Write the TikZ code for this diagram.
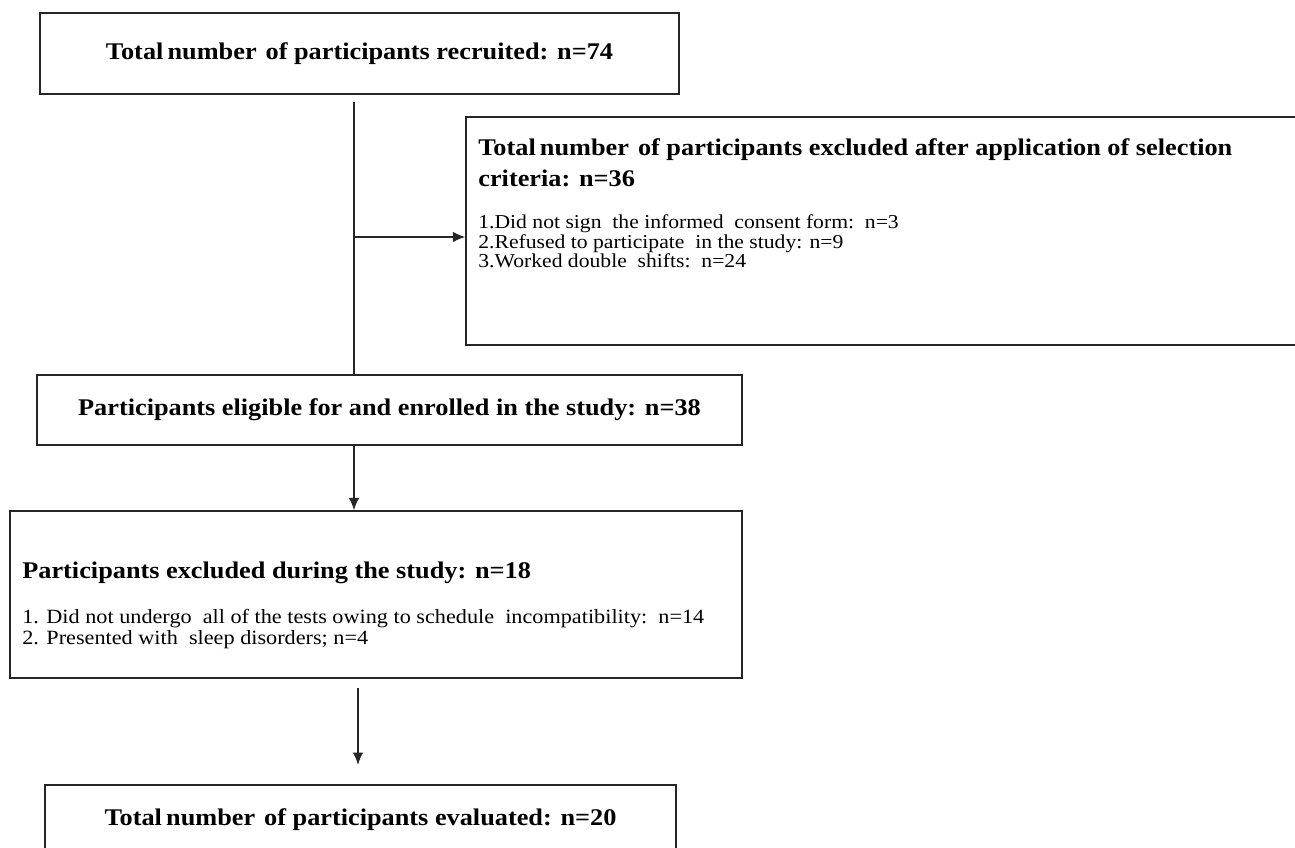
\documentclass[tikz,border=0pt]{standalone}
\usepackage{fontspec}
\setmainfont{Liberation Serif}
\newfontfamily\widefont[FakeStretch=1.1]{Liberation Serif}
\usetikzlibrary{arrows.meta}

\begin{document}
\begin{tikzpicture}[x=0.02cm,y=-0.02cm,
    box/.style={draw=black!85, line width=0.9pt, rectangle, inner sep=0pt},
    title/.style={font=\widefont\fontsize{13.6}{18}\selectfont\bfseries, inner sep=0pt},
    items/.style={font=\widefont\fontsize{11.2}{11.3}\selectfont, inner sep=0pt, align=left},
    conn/.style={line width=0.9pt, black!85},
    arrow/.style={conn, -{Latex[length=7pt,width=6pt]}}]
    \useasboundingbox (0,0) rectangle (1295,848);

    % Box reclutati
    \node[box, minimum width=12.78cm, minimum height=1.62cm, title] (recruited) at (359.5,53.5)
        {Total\kern-.1em\ number\ \kern.1em of participants recruited: n=74};

    % Box esclusi (criteri)
    \node[box, minimum width=16.68cm, minimum height=4.56cm] (excluded) at (883,231) {};
    \node[title, anchor=north west, align=left] (excltitle) at (478,138)
        {Total\kern-.1em\ number\ \kern.1em of participants excluded after application of selection\\criteria: n=36};
    \node[items, anchor=north west] (exclitems) at (478,214)
        {1.Did not sign\ \ the informed\ \ consent form:\ \ n=3\\
         2.Refused to participate\ \ in the study: n=9\\
         3.Worked double\ \ shifts:\ \ n=24};

    % Box eleggibili
    \node[box, minimum width=14.1cm, minimum height=1.4cm, title] (eligible) at (389.5,410)
        {Participants eligible for and enrolled in the study: n=38};

    % Box esclusi durante lo studio
    \node[box, minimum width=14.64cm, minimum height=3.34cm] (during) at (376,594.5) {};
    \node[title, anchor=north west] (durtitle) at (22,562)
        {Participants excluded during the study: n=18};
    \node[items, font=\widefont\fontsize{11.5}{11.9}\selectfont, anchor=north west] (duritems) at (22,609)
        {1. Did not undergo\ \ all of the tests owing to schedule\ \ incompatibility:\ \ n=14\\
         2. Presented with\ \ sleep disorders; n=4};

    % Box valutati
    \node[box, minimum width=12.62cm, minimum height=1.4cm, title] (evaluated) at (360.5,820)
        {Total\kern-.1em\ number\ \kern.1em of participants evaluated: n=20};

    % Connettori
    \coordinate (split) at (354,237);
    \coordinate (lower) at (358,730);
    \draw[conn] ([yshift=-4pt]recruited.south -| split) -- (split |- eligible.north);
    \draw[arrow] (split) -- (split -| excluded.west);
    \draw[arrow] (split |- eligible.south) -- (split |- during.north);
    \draw[arrow] ([yshift=-5pt]lower |- during.south) -- ([yshift=11pt]lower |- evaluated.north);
\end{tikzpicture}
\end{document}
